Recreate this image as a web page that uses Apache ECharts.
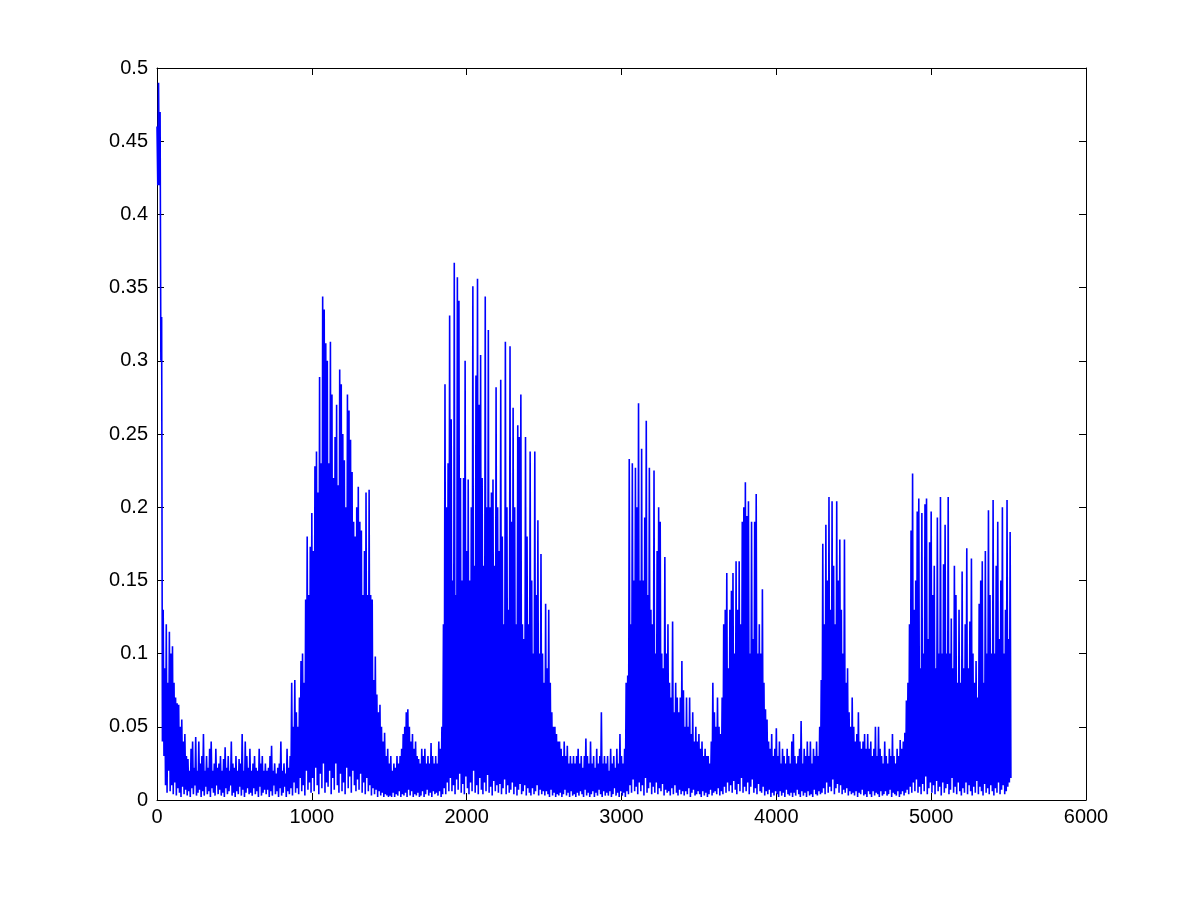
<!DOCTYPE html>
<html>
<head>
<meta charset="utf-8">
<script src="https://cdn.jsdelivr.net/npm/echarts@6/dist/echarts.min.js"></script>
<style>
html,body{margin:0;padding:0;background:#fff;}
#chart{width:1200px;height:900px;}
</style>
</head>
<body>
<div id="chart"></div>
<script>
// Sample step of the peak readings (x units); troughs sit halfway between peaks
const xStep = 10;
const xTicks = [0, 1000, 2000, 3000, 4000, 5000, 6000];
const yTicks = [0, 0.05, 0.1, 0.15, 0.2, 0.25, 0.3, 0.35, 0.4, 0.45, 0.5];

// Column maxima, at x = 0, 10, 20, ...
const highs = [
0.46,0.49,0.47,0.33,0.13,0.09,0.12,0.08,0.115,0.1,
0.105,0.08,0.07,0.066,0.065,0.05,0.055,0.04,0.045,0.03,
0.028,0.02,0.035,0.04,0.022,0.043,0.02,0.04,0.025,0.03,
0.045,0.02,0.03,0.022,0.035,0.04,0.02,0.025,0.035,0.022,
0.025,0.03,0.02,0.028,0.036,0.022,0.03,0.02,0.04,0.025,
0.022,0.03,0.02,0.028,0.025,0.045,0.02,0.04,0.03,0.022,
0.035,0.02,0.025,0.03,0.022,0.02,0.035,0.025,0.03,0.02,
0.025,0.02,0.022,0.03,0.037,0.02,0.025,0.018,0.022,0.025,
0.04,0.02,0.025,0.018,0.035,0.022,0.03,0.08,0.05,0.082,
0.06,0.05,0.07,0.095,0.1,0.08,0.137,0.18,0.14,0.173,
0.196,0.17,0.228,0.238,0.21,0.289,0.23,0.344,0.335,0.312,
0.3,0.23,0.313,0.277,0.22,0.248,0.27,0.215,0.294,0.284,
0.25,0.232,0.2,0.277,0.266,0.246,0.224,0.19,0.18,0.2,
0.214,0.19,0.184,0.14,0.17,0.21,0.14,0.212,0.14,0.137,
0.082,0.098,0.072,0.06,0.065,0.05,0.04,0.046,0.03,0.035,
0.025,0.03,0.02,0.025,0.022,0.03,0.025,0.03,0.035,0.045,
0.05,0.06,0.062,0.05,0.04,0.045,0.035,0.04,0.03,0.028,
0.025,0.035,0.03,0.035,0.025,0.03,0.025,0.039,0.03,0.025,
0.03,0.025,0.04,0.035,0.05,0.12,0.284,0.2,0.23,0.331,
0.26,0.15,0.367,0.14,0.357,0.341,0.22,0.15,0.22,0.3,
0.17,0.219,0.15,0.2,0.351,0.16,0.29,0.356,0.27,0.304,
0.22,0.16,0.344,0.2,0.321,0.2,0.21,0.219,0.16,0.282,
0.2,0.17,0.287,0.18,0.12,0.313,0.2,0.13,0.31,0.19,
0.268,0.2,0.12,0.256,0.248,0.277,0.12,0.11,0.248,0.18,
0.12,0.238,0.15,0.1,0.238,0.14,0.191,0.1,0.168,0.1,
0.08,0.134,0.09,0.13,0.08,0.06,0.05,0.05,0.045,0.04,
0.04,0.035,0.03,0.04,0.03,0.037,0.025,0.03,0.025,0.03,
0.025,0.03,0.035,0.025,0.03,0.022,0.03,0.042,0.03,0.025,
0.04,0.025,0.03,0.022,0.035,0.025,0.03,0.06,0.025,0.03,
0.025,0.03,0.02,0.035,0.025,0.03,0.022,0.035,0.025,0.045,
0.03,0.025,0.035,0.08,0.085,0.233,0.12,0.23,0.15,0.227,
0.2,0.271,0.15,0.24,0.15,0.193,0.259,0.14,0.227,0.13,
0.12,0.225,0.1,0.17,0.2,0.19,0.1,0.09,0.166,0.1,
0.12,0.08,0.07,0.122,0.06,0.08,0.07,0.06,0.07,0.095,
0.075,0.05,0.07,0.05,0.07,0.045,0.06,0.04,0.05,0.04,
0.045,0.035,0.04,0.03,0.035,0.03,0.03,0.025,0.04,0.08,
0.06,0.05,0.07,0.05,0.045,0.07,0.12,0.13,0.155,0.09,
0.13,0.143,0.155,0.1,0.163,0.13,0.163,0.12,0.19,0.2,
0.217,0.194,0.204,0.1,0.19,0.11,0.19,0.209,0.1,0.12,
0.1,0.144,0.08,0.062,0.055,0.04,0.035,0.045,0.03,0.035,
0.049,0.03,0.04,0.025,0.035,0.03,0.025,0.035,0.03,0.025,
0.04,0.045,0.03,0.025,0.03,0.035,0.054,0.025,0.035,0.03,
0.04,0.03,0.04,0.025,0.035,0.03,0.04,0.03,0.05,0.082,
0.175,0.12,0.188,0.15,0.207,0.13,0.204,0.16,0.12,0.204,
0.15,0.178,0.13,0.1,0.178,0.08,0.09,0.06,0.05,0.07,
0.05,0.04,0.045,0.06,0.04,0.035,0.04,0.045,0.035,0.045,
0.035,0.04,0.03,0.035,0.05,0.03,0.05,0.035,0.03,0.025,
0.04,0.03,0.025,0.035,0.03,0.045,0.03,0.025,0.035,0.03,
0.041,0.035,0.04,0.046,0.068,0.08,0.12,0.184,0.223,0.13,
0.15,0.197,0.206,0.09,0.196,0.1,0.202,0.206,0.11,0.176,
0.197,0.14,0.16,0.09,0.193,0.1,0.207,0.1,0.161,0.188,
0.1,0.207,0.1,0.124,0.09,0.16,0.14,0.08,0.13,0.08,
0.156,0.09,0.12,0.172,0.09,0.122,0.165,0.1,0.08,0.095,
0.07,0.134,0.15,0.163,0.08,0.17,0.1,0.198,0.14,0.1,
0.205,0.1,0.16,0.19,0.11,0.15,0.2,0.1,0.13,0.205,
0.11,0.183
];

// Column minima, at x = 5, 15, 25, ...
const lows = [
0.42,0.42,0.3,0.04,0.03,0.01,0.005,0.02,0.006,0.01,
0.004,0.012,0.003,0.008,0.005,0.002,0.009,0.004,0.007,0.003,
0.006,0.002,0.008,0.004,0.01,0.003,0.005,0.007,0.002,0.006,
0.003,0.009,0.004,0.006,0.002,0.008,0.005,0.003,0.01,0.004,
0.007,0.003,0.005,0.002,0.008,0.004,0.006,0.01,0.003,0.005,
0.002,0.006,0.004,0.009,0.003,0.007,0.002,0.005,0.008,0.004,
0.005,0.003,0.008,0.004,0.006,0.002,0.009,0.003,0.005,0.007,
0.004,0.007,0.002,0.006,0.003,0.01,0.004,0.006,0.002,0.008,
0.003,0.005,0.009,0.002,0.006,0.004,0.008,0.003,0.012,0.005,
0.008,0.004,0.015,0.006,0.01,0.003,0.02,0.007,0.012,0.005,
0.015,0.006,0.022,0.01,0.004,0.018,0.008,0.025,0.005,0.012,
0.009,0.02,0.004,0.015,0.007,0.025,0.01,0.005,0.018,0.006,
0.012,0.004,0.022,0.008,0.016,0.005,0.02,0.01,0.006,0.014,
0.007,0.018,0.005,0.012,0.004,0.015,0.006,0.01,0.003,0.008,
0.004,0.007,0.002,0.006,0.003,0.005,0.002,0.004,0.003,0.002,
0.003,0.002,0.005,0.002,0.004,0.003,0.006,0.002,0.004,0.003,
0.005,0.002,0.007,0.003,0.006,0.002,0.004,0.003,0.005,0.002,
0.003,0.006,0.002,0.004,0.007,0.003,0.005,0.002,0.006,0.004,
0.005,0.003,0.006,0.002,0.004,0.008,0.004,0.012,0.006,0.015,
0.006,0.01,0.004,0.014,0.007,0.018,0.005,0.011,0.004,0.016,
0.008,0.004,0.012,0.006,0.02,0.005,0.01,0.004,0.015,0.007,
0.004,0.012,0.006,0.017,0.005,0.009,0.003,0.013,0.006,0.01,
0.005,0.011,0.004,0.008,0.014,0.004,0.01,0.005,0.007,0.012,
0.004,0.009,0.003,0.007,0.011,0.004,0.006,0.01,0.003,0.008,
0.005,0.003,0.008,0.004,0.006,0.01,0.003,0.007,0.004,0.006,
0.003,0.006,0.004,0.002,0.007,0.003,0.005,0.002,0.004,0.003,
0.005,0.002,0.004,0.007,0.003,0.005,0.002,0.006,0.003,0.004,
0.002,0.005,0.003,0.006,0.004,0.002,0.007,0.003,0.005,0.002,
0.004,0.006,0.002,0.005,0.003,0.007,0.004,0.002,0.006,0.003,
0.005,0.003,0.006,0.002,0.004,0.008,0.003,0.005,0.002,0.006,
0.003,0.005,0.002,0.006,0.004,0.01,0.005,0.014,0.006,0.009,
0.004,0.012,0.006,0.01,0.003,0.015,0.005,0.008,0.012,0.004,
0.009,0.005,0.012,0.004,0.008,0.006,0.011,0.003,0.007,0.005,
0.006,0.003,0.008,0.004,0.01,0.005,0.003,0.007,0.004,0.006,
0.003,0.006,0.004,0.008,0.002,0.005,0.007,0.003,0.004,0.006,
0.004,0.002,0.006,0.003,0.005,0.002,0.004,0.007,0.003,0.005,
0.006,0.004,0.008,0.003,0.006,0.004,0.009,0.005,0.012,0.006,
0.01,0.005,0.013,0.007,0.004,0.011,0.006,0.015,0.005,0.009,
0.006,0.012,0.004,0.009,0.014,0.005,0.008,0.004,0.011,0.006,
0.005,0.009,0.003,0.006,0.004,0.007,0.002,0.005,0.003,0.006,
0.004,0.002,0.006,0.003,0.005,0.002,0.007,0.004,0.003,0.005,
0.002,0.005,0.003,0.007,0.004,0.002,0.006,0.003,0.005,0.002,
0.006,0.003,0.004,0.002,0.007,0.004,0.003,0.006,0.004,0.005,
0.008,0.004,0.012,0.005,0.009,0.006,0.014,0.004,0.008,0.011,
0.005,0.01,0.004,0.007,0.005,0.008,0.003,0.006,0.004,0.005,
0.003,0.006,0.002,0.005,0.004,0.007,0.003,0.004,0.002,0.006,
0.004,0.002,0.006,0.003,0.005,0.004,0.002,0.006,0.003,0.004,
0.006,0.003,0.004,0.007,0.002,0.005,0.004,0.003,0.006,0.002,
0.004,0.006,0.003,0.005,0.007,0.004,0.009,0.005,0.012,0.006,
0.014,0.005,0.009,0.004,0.011,0.006,0.016,0.004,0.008,0.012,
0.005,0.01,0.004,0.013,0.006,0.009,0.003,0.012,0.005,0.008,
0.011,0.004,0.007,0.015,0.005,0.009,0.004,0.012,0.006,0.003,
0.008,0.005,0.012,0.004,0.01,0.006,0.003,0.009,0.005,0.013,
0.004,0.009,0.006,0.003,0.011,0.005,0.008,0.004,0.01,0.006,
0.003,0.008,0.005,0.012,0.004,0.007,0.01,0.004,0.006,0.009,
0.012,0.015
];

const seriesData = [];
for (let i = 0; i < highs.length; i++) {
  seriesData.push([i * xStep, highs[i]]);
  if (i < lows.length) seriesData.push([i * xStep + xStep / 2, lows[i]]);
}

const FONT = 'Liberation Sans, Arial, Helvetica, sans-serif';
const axisLineStyle = { color: '#000', width: 1 };

function xAx(pos, showLabel) {
  return {
    type: 'value', position: pos, min: xTicks[0], max: xTicks[xTicks.length - 1],
    interval: xTicks[1] - xTicks[0],
    axisLine: { show: true, onZero: false, lineStyle: axisLineStyle },
    axisTick: { show: true, inside: true, length: 7, lineStyle: axisLineStyle },
    axisLabel: { show: showLabel, color: '#000', fontSize: 20, fontFamily: FONT, margin: 7,
      formatter: function (v) { return String(Math.round(v)); } },
    splitLine: { show: false }
  };
}
function yAx(pos, showLabel) {
  return {
    type: 'value', position: pos, min: yTicks[0], max: yTicks[yTicks.length - 1],
    interval: yTicks[1] - yTicks[0],
    axisLine: { show: true, onZero: false, lineStyle: axisLineStyle },
    axisTick: { show: true, inside: true, length: 7, lineStyle: axisLineStyle },
    axisLabel: { show: showLabel, color: '#000', fontSize: 20, fontFamily: FONT, margin: 9,
      formatter: function (v) { return String(Math.round(v * 100) / 100); } },
    splitLine: { show: false }
  };
}

const chart = echarts.init(document.getElementById('chart'), null, { renderer: 'canvas' });
chart.setOption({
  animation: false,
  backgroundColor: '#fff',
  grid: { left: 157, right: 114, top: 68, bottom: 100 },
  xAxis: [xAx('bottom', true), xAx('top', false)],
  yAxis: [yAx('left', true), yAx('right', false)],
  series: [{
    type: 'line',
    xAxisIndex: 0, yAxisIndex: 0,
    data: seriesData,
    showSymbol: false,
    symbol: 'none',
    lineStyle: { color: '#0000ff', width: 1.6 },
    silent: true
  }]
});
</script>
</body>
</html>
